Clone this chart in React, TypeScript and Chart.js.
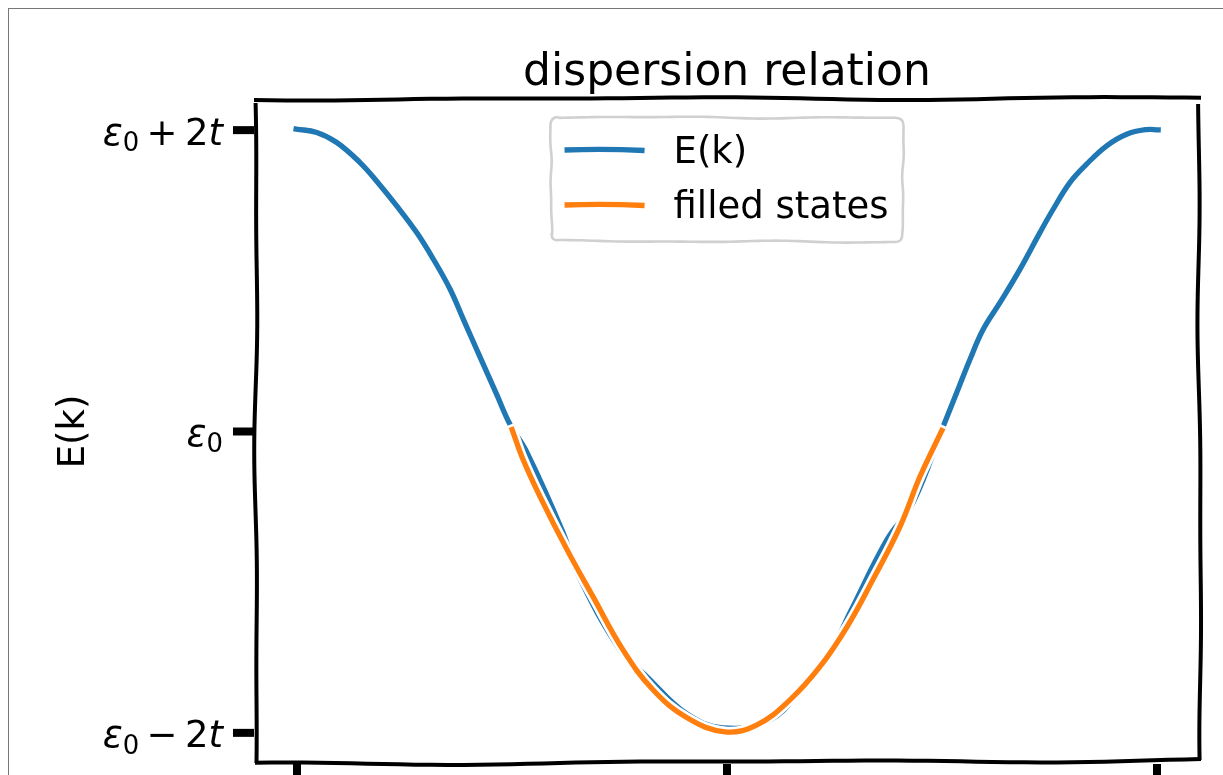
import React, { useEffect, useRef } from "react";
import { Chart, registerables } from "chart.js";

Chart.register(...registerables);

// ---- data ----
const chartTitle = "dispersion relation";
const yAxisTitle = "E(k)";
const seriesLabels = ["E(k)", "filled states"];
const seriesColors = ["#1f77b4", "#ff7f0e"];

// E(k) band (k in radians, energy in units of t, relative to ε0)
const bandK = [
  -3.148, -2.997, -2.851, -2.681, -2.559, -2.413, -2.267, -2.145, -2.023, -1.926,
  -1.804, -1.682, -1.585, -1.461, -1.198, -1.096, -0.782, -0.584, -0.3, -0.029,
  0.314, 0.55, 0.774, 0.898, 1.169, 1.359, 1.58, 1.678, 1.775, 1.872, 1.994,
  2.14, 2.286, 2.383, 2.505, 2.627, 2.774, 2.92, 3.066, 3.15,
];
const bandE = [
  2.007, 1.985, 1.918, 1.785, 1.661, 1.497, 1.32, 1.143, 0.944, 0.744,
  0.494, 0.245, 0.047, -0.14, -0.671, -0.937, -1.449, -1.628, -1.87, -1.967,
  -1.914, -1.7, -1.429, -1.203, -0.718, -0.472, 0.035, 0.257, 0.478, 0.678, 0.855,
  1.076, 1.32, 1.475, 1.652, 1.774, 1.896, 1.973, 2.004, 2.002,
];

// filled states segment
const filledK = [
  -1.57, -1.49, -1.366, -1.169, -0.979, -0.76, -0.541, -0.292, -0.015, 0.219,
  0.46, 0.679, 0.877, 1.066, 1.264, 1.41, 1.57,
];
const filledE = [
  0.013, -0.186, -0.432, -0.784, -1.096, -1.449, -1.714, -1.9, -1.993, -1.947,
  -1.781, -1.561, -1.296, -0.983, -0.631, -0.299, 0.007,
];

const yTickValues = [-2, 0, 2];
const yTickLabels = ["ε₀ − 2t", "ε₀", "ε₀ + 2t"];
const xTickValues = [-Math.PI, 0, Math.PI];
const xTickLabels = ["−π", "0", "π"];
const xLimits = [-1.1 * Math.PI, 1.1 * Math.PI];
const yLimits = [-2.2, 2.2];

const FONT = "'DejaVu Sans', sans-serif";
const FS = 37;

function wobblyPath(
  ctx: CanvasRenderingContext2D,
  x0: number, y0: number, x1: number, y1: number,
  amp: number, seed: number, moveFirst: boolean
) {
  const n = 60;
  const dx = x1 - x0, dy = y1 - y0;
  const len = Math.hypot(dx, dy) || 1;
  const px = -dy / len, py = dx / len;
  for (let i = 0; i < n; i++) {
    const t = i / (n - 1);
    const off =
      amp * (0.6 * Math.sin(2 * Math.PI * 1.7 * t + seed) + 0.4 * Math.sin(2 * Math.PI * 3.1 * t + seed * 1.9));
    const x = x0 + dx * t + px * off;
    const y = y0 + dy * t + py * off;
    if (i === 0 && moveFirst) ctx.moveTo(x, y);
    else ctx.lineTo(x, y);
  }
}

function wobblyLine(
  ctx: CanvasRenderingContext2D,
  x0: number, y0: number, x1: number, y1: number,
  amp: number, seed: number
) {
  ctx.beginPath();
  wobblyPath(ctx, x0, y0, x1, y1, amp, seed, true);
  ctx.stroke();
}

function drawMathLabel(ctx: CanvasRenderingContext2D, label: string, xRight: number, yBase: number, size: number) {
  type Run = { t: string; font: string; dy: number; padL: number; padR: number };
  const runs: Run[] = [];
  for (const ch of label) {
    if (ch === " ") continue;
    if (ch === "₀") runs.push({ t: "0", font: `${size * 0.7}px ${FONT}`, dy: size * 0.17, padL: 0, padR: 0 });
    else if (ch === "+" || ch === "−") runs.push({ t: ch, font: `${size}px ${FONT}`, dy: 0, padL: size * 0.2, padR: size * 0.2 });
    else if (/[A-Za-zε]/.test(ch)) runs.push({ t: ch, font: `italic ${size}px ${FONT}`, dy: 0, padL: 0, padR: 0 });
    else runs.push({ t: ch, font: `${size}px ${FONT}`, dy: 0, padL: 0, padR: 0 });
  }
  let total = 0;
  const widths: number[] = [];
  for (const r of runs) {
    ctx.font = r.font;
    const w = ctx.measureText(r.t).width;
    widths.push(w);
    total += r.padL + w + r.padR;
  }
  let x = xRight - total;
  ctx.textAlign = "left";
  ctx.textBaseline = "alphabetic";
  runs.forEach((r, i) => {
    ctx.font = r.font;
    x += r.padL;
    ctx.fillText(r.t, x, yBase + r.dy);
    x += widths[i] + r.padR;
  });
}

const decorPlugin = {
  id: "xkcdDecor",
  afterDatasetsDraw(chart: any) {
    const ctx: CanvasRenderingContext2D = chart.ctx;
    const { left: L, right: R, top: T, bottom: B } = chart.chartArea;
    const xs = chart.scales.x;
    const ys = chart.scales.y;
    ctx.save();
    ctx.fillStyle = "#000";
    ctx.strokeStyle = "#000";

    // spines
    ctx.lineWidth = 4;
    ctx.lineCap = "butt";
    wobblyLine(ctx, L, T - 1, R + 1, T - 2, 1.8, 0.4);
    wobblyLine(ctx, L + 2, T + 3, L + 2, B, 1.8, 2.1);
    wobblyLine(ctx, R - 2, T + 4, R + 1, B - 3, 1.6, 4.0);
    wobblyLine(ctx, L + 1, B + 1, R + 1, B - 3, 1.8, 5.3);

    // y ticks + labels
    ctx.lineWidth = 8;
    yTickValues.forEach((v, i) => {
      const y = ys.getPixelForValue(v);
      ctx.beginPath();
      ctx.moveTo(L - 21, y);
      ctx.lineTo(L, y);
      ctx.stroke();
      drawMathLabel(ctx, yTickLabels[i], L - 31, y + 14.5, FS);
    });

    // x ticks + labels
    xTickValues.forEach((v, i) => {
      const x = xs.getPixelForValue(v);
      ctx.beginPath();
      ctx.moveTo(x, B + 1);
      ctx.lineTo(x, B + 22);
      ctx.stroke();
      ctx.font = `${FS}px ${FONT}`;
      ctx.textAlign = "center";
      ctx.textBaseline = "top";
      ctx.fillText(xTickLabels[i], x, B + 32);
    });

    // title
    ctx.font = `${44}px ${FONT}`;
    ctx.textAlign = "center";
    ctx.textBaseline = "alphabetic";
    ctx.fillText(chartTitle, (L + R) / 2, T - 15);

    // y axis title
    ctx.save();
    ctx.translate(L - 170.3, (T + B) / 2);
    ctx.rotate(-Math.PI / 2);
    ctx.font = `${FS}px ${FONT}`;
    ctx.textAlign = "center";
    ctx.textBaseline = "alphabetic";
    ctx.fillText(yAxisTitle, 0, 0);
    ctx.restore();

    // legend (slightly hand-drawn frame)
    ctx.font = `${FS}px ${FONT}`;
    let maxW = 0;
    seriesLabels.forEach((s) => (maxW = Math.max(maxW, ctx.measureText(s).width)));
    const boxW = 123 + maxW + 15;
    const boxH = 125;
    const bx = (L + R) / 2 - boxW / 2;
    const by = T + 17;
    ctx.beginPath();
    (ctx as any).roundRect(bx, by, boxW, boxH, 8);
    ctx.fillStyle = "rgba(255,255,255,0.8)";
    ctx.fill();
    ctx.lineWidth = 2.6;
    ctx.strokeStyle = "#d0d0d0";
    ctx.lineJoin = "round";
    ctx.beginPath();
    const r = 8;
    wobblyPath(ctx, bx + r, by, bx + boxW - r, by + 1, 1.0, 1.3, true);
    ctx.quadraticCurveTo(bx + boxW, by + 1, bx + boxW, by + r);
    wobblyPath(ctx, bx + boxW, by + r, bx + boxW - 1, by + boxH - r, 0.8, 2.7, false);
    ctx.quadraticCurveTo(bx + boxW - 1, by + boxH, bx + boxW - r, by + boxH);
    wobblyPath(ctx, bx + boxW - r, by + boxH, bx + r, by + boxH - 1, 1.0, 3.9, false);
    ctx.quadraticCurveTo(bx + 1, by + boxH - 1, bx + 1, by + boxH - r);
    wobblyPath(ctx, bx + 1, by + boxH - r, bx, by + r, 0.8, 0.6, false);
    ctx.quadraticCurveTo(bx, by, bx + r, by);
    ctx.stroke();

    const baselines = [46, 101];
    seriesLabels.forEach((s, i) => {
      const yb = by + baselines[i];
      ctx.strokeStyle = seriesColors[i];
      ctx.lineWidth = 5.3;
      ctx.lineCap = "butt";
      ctx.beginPath();
      ctx.moveTo(bx + 14, yb - 13);
      ctx.quadraticCurveTo(bx + 54, yb - 14.5, bx + 94, yb - 12.5);
      ctx.stroke();
      ctx.fillStyle = "#000";
      ctx.textAlign = "left";
      ctx.textBaseline = "alphabetic";
      ctx.fillText(s, bx + 123, yb);
    });

    ctx.restore();
  },
};

export default function App() {
  const ref = useRef<HTMLCanvasElement | null>(null);

  useEffect(() => {
    if (!ref.current) return;
    const band = bandK.map((k, i) => ({ x: k, y: bandE[i] }));
    const filled = filledK.map((k, i) => ({ x: k, y: filledE[i] }));
    const chart = new Chart(ref.current, {
      type: "line",
      data: {
        datasets: [
          { label: seriesLabels[1], data: filled, borderColor: seriesColors[1], borderWidth: 5.3, order: 0 },
          { label: "_outline_filled", data: filled, borderColor: "#ffffff", borderWidth: 10.6, order: 1 },
          { label: seriesLabels[0], data: band, borderColor: seriesColors[0], borderWidth: 5.3, order: 2 },
          { label: "_outline_band", data: band, borderColor: "#ffffff", borderWidth: 10.6, order: 3 },
        ],
      },
      options: {
        responsive: false,
        animation: false,
        events: [],
        layout: { padding: { left: 245, top: 91, right: 109, bottom: 146 } },
        plugins: { legend: { display: false }, title: { display: false }, tooltip: { enabled: false } },
        elements: {
          point: { radius: 0 },
          line: { tension: 0.4, borderCapStyle: "square", borderJoinStyle: "round", fill: false },
        },
        scales: {
          x: { type: "linear", min: xLimits[0], max: xLimits[1], display: false },
          y: { type: "linear", min: yLimits[0], max: yLimits[1], display: false },
        },
      },
      plugins: [decorPlugin],
    } as any);
    return () => chart.destroy();
  }, []);

  return (
    <div
      style={{
        position: "fixed",
        left: 8,
        top: 8,
        width: 1214,
        height: 766,
        borderTop: "1px solid #777",
        borderLeft: "1px solid #777",
        overflow: "hidden",
        background: "#fff",
      }}
    >
      <canvas ref={ref} width={1300} height={900} style={{ display: "block" }} />
    </div>
  );
}
